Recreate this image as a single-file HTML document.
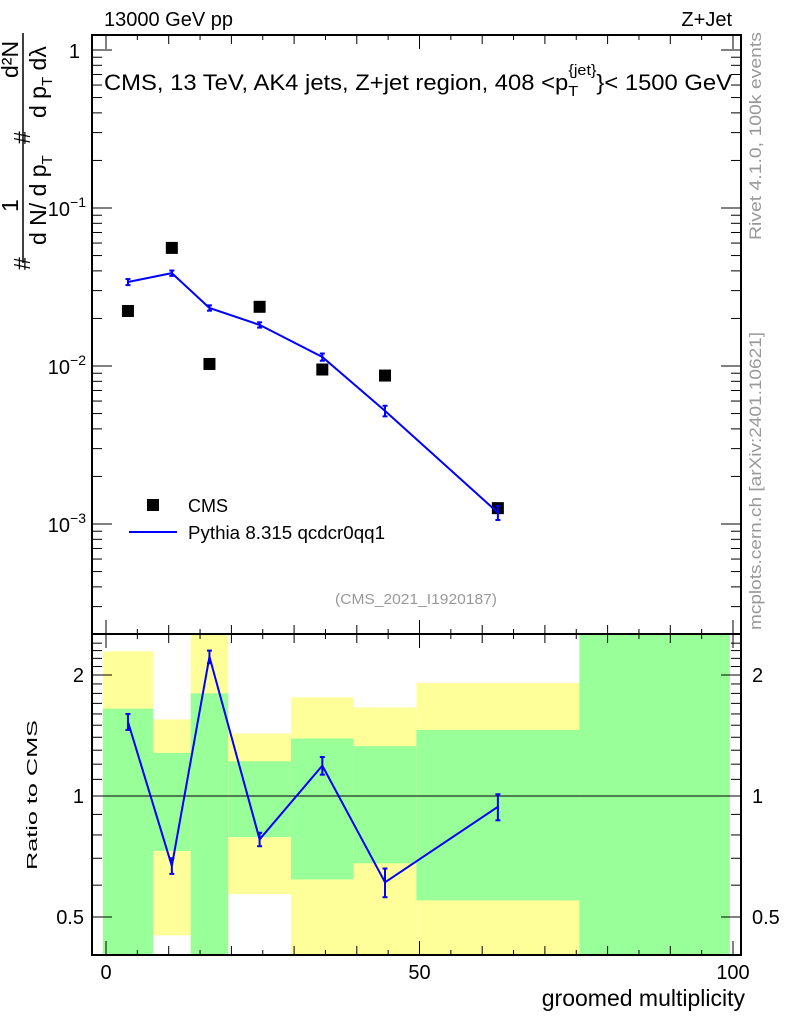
<!DOCTYPE html>
<html><head><meta charset="utf-8"><style>
body{margin:0;background:#fff;}
svg{display:block;font-family:"Liberation Sans",sans-serif;}
</style></head><body>
<svg id="c" width="786" height="1024" viewBox="0 0 786 1024">
<g id="bands"></g>
<g id="axes"></g>
<g id="series"></g>
<text x="104" y="26" font-size="20">13000 GeV pp</text>
<text x="732" y="26" font-size="20" text-anchor="end">Z+Jet</text>
<text x="104" y="90" font-size="22" textLength="628" lengthAdjust="spacingAndGlyphs">CMS, 13 TeV, AK4 jets, Z+jet region, 408 &lt;p<tspan font-size="15" dy="6">T</tspan><tspan font-size="15" dx="-9" dy="-21">{jet}</tspan><tspan dy="15">}&lt; 1500 GeV</tspan></text>
<g font-size="23">
<text transform="translate(18,212) rotate(-90)">1</text>
<text transform="translate(18,78) rotate(-90)">d²N</text>
<line x1="23" y1="33" x2="23" y2="263" stroke="#000" stroke-width="1.5"/>
<text transform="translate(30,270) rotate(-90)">#</text>
<text transform="translate(30,144) rotate(-90)">#</text>
<text transform="translate(46,245) rotate(-90)">d N/  d p<tspan font-size="15" dy="6">T</tspan></text>
<text transform="translate(46,118) rotate(-90)">d p<tspan font-size="15" dy="6">T</tspan><tspan dy="-6">  d</tspan>λ</text>
</g>
<text transform="translate(37,795) rotate(-90)" font-size="15" text-anchor="middle" textLength="150" lengthAdjust="spacingAndGlyphs">Ratio to CMS</text>
<text x="745" y="1006" font-size="23" text-anchor="end">groomed multiplicity</text>
<text transform="translate(761,240) rotate(-90)" font-size="17" fill="#999" textLength="208" lengthAdjust="spacingAndGlyphs">Rivet 4.1.0,  100k events</text>
<text transform="translate(761,630) rotate(-90)" font-size="17" fill="#999" textLength="298" lengthAdjust="spacingAndGlyphs">mcplots.cern.ch [arXiv:2401.10621]</text>
<text x="416" y="604" font-size="15" fill="#999" text-anchor="middle" textLength="162" lengthAdjust="spacingAndGlyphs">(CMS_2021_I1920187)</text>
<g>
<rect x="147" y="499" width="12" height="12" fill="#000"/>
<text x="188" y="512" font-size="18">CMS</text>
<line x1="129" y1="532" x2="177" y2="532" stroke="#00f" stroke-width="2"/>
<text x="188" y="539" font-size="18" textLength="197" lengthAdjust="spacingAndGlyphs">Pythia 8.315 qcdcr0qq1</text>
</g>
</svg>
<script>
const xCenters=[3.5,10.5,16.5,24.5,34.5,44.5,62.5,87.5];
const binEdges=[-0.5,7.5,13.5,19.5,29.5,39.5,49.5,75.5,99.5];
const cmsValues=[0.0223,0.0559,0.0103,0.0237,0.0095,0.0087,0.00126,0.00018];
const mcValues=[0.034,0.0387,0.0233,0.0182,0.0114,0.0052,0.00118];
const mcErr=[0.0015,0.0015,0.0009,0.0007,0.0006,0.0004,0.00012];
const ratioValues=[1.53,0.67,2.22,0.78,1.19,0.61,0.94];
const ratioErr=[0.07,0.03,0.08,0.03,0.06,0.05,0.07];
const yellowHi=[2.29,1.55,3,1.43,1.76,1.66,1.91,3];
const yellowLo=[0.3,0.45,0.3,0.57,0.3,0.3,0.3,0.3];
const greenHi=[1.65,1.28,1.80,1.22,1.39,1.33,1.46,3];
const greenLo=[0.3,0.73,0.3,0.79,0.62,0.68,0.55,0.3];
const yTicksTop=["1","10⁻¹","10⁻²","10⁻³"];
const xTickLabels=[0,50,100];
const ratioTicks=[0.5,1,2];

const NS="http://www.w3.org/2000/svg";
const L=92,R=741,T=35,M=634,B=955;
const X=v=>106+6.27*v;
const Y=v=>50-158*Math.log10(v);
const YR=v=>796-121*Math.log2(v);
const clampR=y=>Math.max(M,Math.min(B,y));
function mk(p,tag,at){const e=document.createElementNS(NS,tag);for(const k in at)e.setAttribute(k,at[k]);p.appendChild(e);return e;}
const bands=document.getElementById('bands'),axes=document.getElementById('axes'),series=document.getElementById('series');
for(let i=0;i<binEdges.length-1;i++){
  const x1=X(binEdges[i]),x2=X(binEdges[i+1]);
  let y1=clampR(YR(yellowHi[i])),y2=clampR(YR(yellowLo[i]));
  const r=mk(bands,'rect',{x:x1,y:y1,width:x2-x1,height:y2-y1,fill:'#ffff99'});
  
  
  y1=clampR(YR(greenHi[i]));y2=clampR(YR(greenLo[i]));
  const g=mk(bands,'rect',{x:x1,y:y1,width:x2-x1,height:y2-y1,fill:'#99ff99'});
  
  
}
mk(axes,'line',{x1:L,x2:R,y1:YR(1),y2:YR(1),stroke:'#000','stroke-width':1});
mk(axes,'rect',{x:L,y:T,width:R-L,height:M-T,fill:'none',stroke:'#000','stroke-width':2});
mk(axes,'rect',{x:L,y:M,width:R-L,height:B-M,fill:'none',stroke:'#000','stroke-width':2});
for(let v=0;v<=100;v+=5){
  const len=v%50===0?14:(v%10===0?9:5),x=X(v);
  [[T,1],[M,-1],[M,1],[B,-1]].forEach(([y,d])=>mk(axes,'line',{x1:x,x2:x,y1:y,y2:y+d*len,stroke:'#000','stroke-width':1}));
}
xTickLabels.forEach(v=>{const t=mk(axes,'text',{x:X(v),y:979,'font-size':20,'text-anchor':'middle'});t.textContent=v;

});
for(let d=0;d>=-4;d--){for(let m=1;m<10;m++){const v=m*Math.pow(10,d);const y=Y(v);if(y<T||y>M)continue;
 const len=m===1?20:10;mk(axes,'line',{x1:L,x2:L+len,y1:y,y2:y,stroke:'#000'});mk(axes,'line',{x1:R,x2:R-len,y1:y,y2:y,stroke:'#000'});}}
yTicksTop.forEach((s,i)=>{const t=mk(axes,'text',{x:i?86:80,y:Y(Math.pow(10,-i))+8,'font-size':20,'text-anchor':'end'});
 if(i){t.textContent='10';const ts=mk(t,'tspan',{dy:-9,'font-size':14});ts.textContent='−'+i;}else t.textContent=s;
 
 });
for(let v=0.4;v<=2.5;v+=0.1){const y=YR(v);if(y<M||y>B)continue;const maj=ratioTicks.some(r=>Math.abs(r-v)<1e-6);const len=maj?20:10;
 mk(axes,'line',{x1:L,x2:L+len,y1:y,y2:y,stroke:'#000'});mk(axes,'line',{x1:R,x2:R-len,y1:y,y2:y,stroke:'#000'});}
ratioTicks.forEach(v=>{const s=String(v);[[84,'end'],[752,'start']].forEach(([x,a])=>{const t=mk(axes,'text',{x:x,y:YR(v)+7,'font-size':20,'text-anchor':a});t.textContent=s;

});});
cmsValues.forEach((v,i)=>{let y=Y(v);if(y>M+5)y=M+5;const r=mk(series,'rect',{x:X(xCenters[i])-6,y:y-6,width:12,height:12,fill:'#000'});


if(Y(v)>M){r.setAttribute('height',Math.max(0,M-(y-6)));}});
const pts=mcValues.map((v,i)=>X(xCenters[i])+','+Y(v)).join(' ');
const pl=mk(series,'polyline',{points:pts,fill:'none',stroke:'#00f','stroke-width':2});


mcValues.forEach((v,i)=>{const x=X(xCenters[i]);const y1=Y(v+mcErr[i]),y2=Y(v-mcErr[i]);
 mk(series,'line',{x1:x,x2:x,y1:y1,y2:y2,stroke:'#00f','stroke-width':2});
 mk(series,'line',{x1:x-2.5,x2:x+2.5,y1:y1,y2:y1,stroke:'#00f','stroke-width':2});
 mk(series,'line',{x1:x-2.5,x2:x+2.5,y1:y2,y2:y2,stroke:'#00f','stroke-width':2});});
const rp=ratioValues.map((v,i)=>X(xCenters[i])+','+YR(v)).join(' ');
const rl=mk(series,'polyline',{points:rp,fill:'none',stroke:'#00f','stroke-width':2});


ratioValues.forEach((v,i)=>{const x=X(xCenters[i]);const y1=YR(v+ratioErr[i]),y2=YR(v-ratioErr[i]);
 mk(series,'line',{x1:x,x2:x,y1:y1,y2:y2,stroke:'#00f','stroke-width':2});
 mk(series,'line',{x1:x-2.5,x2:x+2.5,y1:y1,y2:y1,stroke:'#00f','stroke-width':2});
 mk(series,'line',{x1:x-2.5,x2:x+2.5,y1:y2,y2:y2,stroke:'#00f','stroke-width':2});});
</script>
</body></html>
